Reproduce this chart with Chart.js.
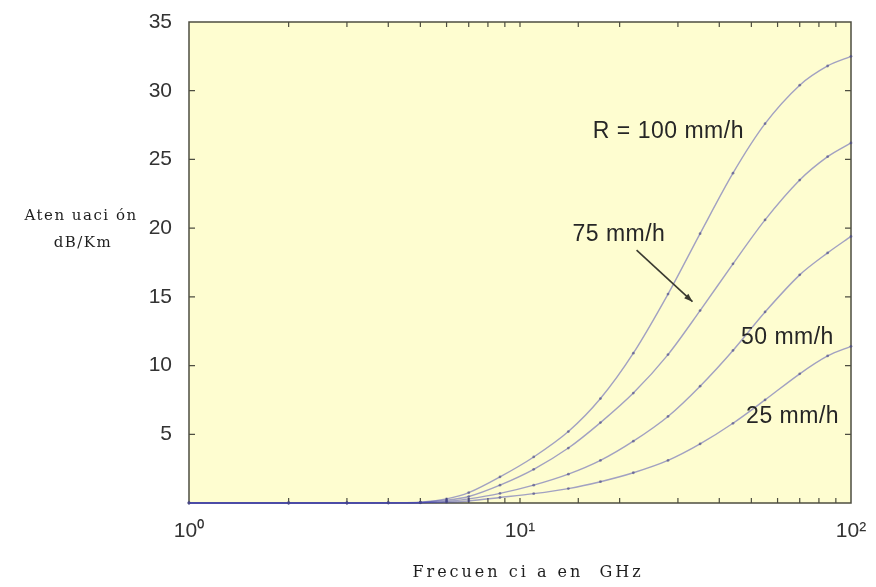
<!DOCTYPE html>
<html>
<head>
<meta charset="utf-8">
<script src="https://cdn.jsdelivr.net/npm/chart.js@4/dist/chart.umd.min.js"></script>
<style>
  html, body { margin: 0; padding: 0; background: #ffffff; }
  #wrap { width: 876px; height: 587px; position: relative; }
</style>
</head>
<body>
<div id="wrap"><canvas id="rain"></canvas></div>
<script>
// frequency grid (GHz) and attenuation (dB/km) for each rain rate
const freqGHz = [1, 2, 3, 4, 5, 6, 7, 8.7, 11, 14, 17.5, 22, 28, 35, 44, 55, 70, 85, 100];
const att100 = [0, 0, 0, 0.02, 0.05, 0.3, 0.75, 1.9, 3.35, 5.2, 7.6, 10.9, 15.2, 19.6, 24.0, 27.6, 30.4, 31.8, 32.5];
const att75 = [0, 0, 0, 0.01, 0.04, 0.2, 0.47, 1.3, 2.45, 4.0, 5.85, 8.0, 10.8, 14.0, 17.4, 20.6, 23.5, 25.2, 26.2];
const att50 = [0, 0, 0, 0.01, 0.03, 0.12, 0.3, 0.7, 1.3, 2.1, 3.1, 4.5, 6.3, 8.5, 11.1, 13.9, 16.6, 18.2, 19.4];
const att25 = [0, 0, 0, 0, 0.02, 0.06, 0.15, 0.4, 0.68, 1.05, 1.55, 2.2, 3.1, 4.3, 5.8, 7.5, 9.4, 10.7, 11.4];
const rainRates = ['R = 100 mm/h', '75 mm/h', '50 mm/h', '25 mm/h'];
const xTickLabels = { 1: '10\u2070', 10: '10\u00b9', 100: '10\u00b2' };
const yTicks = [5, 10, 15, 20, 25, 30, 35];

// curve labels, anchored in data units (GHz, dB/km)
const curveNotes = [
  { text: rainRates[0], f: 16.6, a: 27.0 },
  { text: rainRates[1], f: 14.4, a: 19.5 },
  { text: rainRates[2], f: 46.5, a: 12.0 },
  { text: rainRates[3], f: 48.2, a: 6.3 },
];
const arrowFrom = { f: 22.5, a: 18.4 };
const arrowTo = { f: 33.2, a: 14.65 };

const lineColor = 'rgba(70, 70, 180, 0.5)';
const toPoints = (vals) => freqGHz.map((f, i) => ({ x: f, y: vals[i] }));

const makeSet = (label, vals) => ({
  label,
  data: toPoints(vals),
  borderColor: lineColor,
  borderWidth: 1.4,
  pointRadius: 1.4,
  pointBackgroundColor: 'rgba(70, 70, 130, 0.6)',
  pointBorderWidth: 0,
  tension: 0.3,
  clip: 4,
  fill: false,
});

// yellow plot background + MATLAB style box with inward ticks
const axesBox = {
  id: 'axesBox',
  beforeDatasetsDraw(chart) {
    const { ctx, chartArea: a, scales } = chart;
    const x = scales.x, y = scales.y;
    ctx.save();
    ctx.fillStyle = '#fefdd0';
    ctx.fillRect(a.left, a.top, a.right - a.left, a.bottom - a.top);

    ctx.strokeStyle = '#4d4d40';
    ctx.lineWidth = 1.5;
    ctx.strokeRect(a.left, a.top, a.right - a.left, a.bottom - a.top);

    ctx.lineWidth = 1.2;
    ctx.beginPath();
    x.ticks.forEach((t) => {
      const px = x.getPixelForValue(t.value);
      if (px <= a.left + 1 || px >= a.right - 1) return;
      ctx.moveTo(px, a.bottom); ctx.lineTo(px, a.bottom - 5);
      ctx.moveTo(px, a.top); ctx.lineTo(px, a.top + 5);
    });
    yTicks.forEach((v) => {
      const py = y.getPixelForValue(v);
      if (py <= a.top + 1) return;
      ctx.moveTo(a.left, py); ctx.lineTo(a.left + 6, py);
      ctx.moveTo(a.right, py); ctx.lineTo(a.right - 6, py);
    });
    ctx.stroke();
    ctx.restore();
  },
  afterDraw(chart) {
    const { ctx, chartArea: a, scales } = chart;
    const x = scales.x, y = scales.y;
    ctx.save();

    // curve labels
    ctx.fillStyle = '#262626';
    ctx.font = '23px "Liberation Sans", Arial, sans-serif';
    ctx.letterSpacing = '0.5px';
    ctx.textBaseline = 'middle';
    ctx.textAlign = 'left';
    curveNotes.forEach((n) => {
      ctx.fillText(n.text, x.getPixelForValue(n.f), y.getPixelForValue(n.a));
    });

    // arrow pointing at the 75 mm/h curve
    const x0 = x.getPixelForValue(arrowFrom.f), y0 = y.getPixelForValue(arrowFrom.a);
    const x1 = x.getPixelForValue(arrowTo.f), y1 = y.getPixelForValue(arrowTo.a);
    const ang = Math.atan2(y1 - y0, x1 - x0);
    ctx.strokeStyle = '#3a3a30';
    ctx.lineWidth = 1.6;
    ctx.beginPath();
    ctx.moveTo(x0, y0); ctx.lineTo(x1, y1);
    ctx.stroke();
    ctx.fillStyle = '#3a3a30';
    ctx.beginPath();
    ctx.moveTo(x1, y1);
    ctx.lineTo(x1 - 9 * Math.cos(ang - 0.35), y1 - 9 * Math.sin(ang - 0.35));
    ctx.lineTo(x1 - 9 * Math.cos(ang + 0.35), y1 - 9 * Math.sin(ang + 0.35));
    ctx.closePath();
    ctx.fill();

    // axis titles, serif with wide spacing
    ctx.fillStyle = '#1e1e1e';
    ctx.textAlign = 'center';
    ctx.font = '16px "DejaVu Serif", serif';
    ctx.letterSpacing = '3px';
    ctx.fillText('Frecuen ci a en  GHz', (a.left + a.right) / 2 + 8, 573);
    ctx.font = '15px "DejaVu Serif", serif';
    ctx.letterSpacing = '1.5px';
    ctx.fillText('Aten uaci ón', 81, 216);
    ctx.fillText('dB/Km', 83, 243);
    ctx.restore();
  },
};

new Chart(document.getElementById('rain'), {
  type: 'line',
  data: {
    datasets: [
      makeSet('100 mm/h', att100),
      makeSet('75 mm/h', att75),
      makeSet('50 mm/h', att50),
      makeSet('25 mm/h', att25),
    ],
  },
  options: {
    responsive: true,
    maintainAspectRatio: false,
    animation: false,
    layout: { padding: { top: 22, right: 25, bottom: 0, left: 0 } },
    plugins: { legend: { display: false }, tooltip: { enabled: false } },
    scales: {
      x: {
        type: 'logarithmic',
        min: 1,
        max: 100,
        grid: { display: false },
        border: { display: false },
        ticks: {
          autoSkip: false,
          maxRotation: 0,
          padding: 8,
          color: '#333333',
          font: { family: '"Liberation Sans", Arial, sans-serif', size: 21 },
          callback: (v) => xTickLabels[v] || '',
        },
        afterFit: (scale) => { scale.height = 84; },
      },
      y: {
        min: 0,
        max: 35,
        grid: { display: false },
        border: { display: false },
        ticks: {
          stepSize: 5,
          padding: 9,
          color: '#333333',
          font: { family: '"Liberation Sans", Arial, sans-serif', size: 21 },
          callback: (v) => (yTicks.includes(v) ? String(v) : ''),
        },
        afterFit: (scale) => { scale.width = 189; },
      },
    },
  },
  plugins: [axesBox],
});
</script>
</body>
</html>
